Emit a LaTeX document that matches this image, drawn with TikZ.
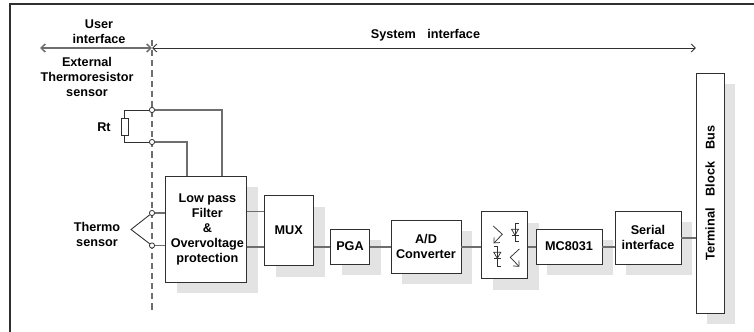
\documentclass[tikz,border=0pt]{standalone}
\usepackage{fontspec}
\setmainfont{Liberation Sans}
\usetikzlibrary{shadows,arrows.meta}
\definecolor{boxshade}{HTML}{E3E3E3}
\definecolor{linedark}{HTML}{303030}
\definecolor{linegray}{HTML}{6E6E6E}
\tikzset{
  >={Straight Barb[length=3.2pt,width=6pt]},
  label/.style={font=\bfseries\fontsize{9.5}{11.25}\selectfont, align=center, inner sep=0pt},
  block/.style={label, draw=linedark, line width=0.65pt, fill=white,
    drop shadow={shadow xshift=8.6pt, shadow yshift=-8.6pt, fill=boxshade, opacity=1}},
  wire/.style={linedark, line width=0.65pt},
  link/.style={linegray, line width=1pt},
  port/.style={circle, draw=linedark, fill=white, line width=0.6pt, inner sep=0pt, minimum size=3.9pt}
}

\begin{document}
\begin{tikzpicture}[x=0.75pt,y=-0.75pt]
\useasboundingbox (0,0) rectangle (754,332);
% frame, open on the right and at the bottom
\draw[linedark, line width=1.4pt] (754,4) -- (10,4) -- (10,332);

% interface boundary
\coordinate (bndtop) at (152,40);
\coordinate (bndbot) at (152,313);
\draw[linegray, line width=1.1pt, dash pattern=on 4.6pt off 3pt] (bndtop) -- (bndbot);

% interface arrows
\coordinate (userleft) at (40,48);
\coordinate (bndmid) at (152,48);
\coordinate (sysright) at (696,48);
\draw[<->, linegray, line width=1.1pt] (userleft) -- (bndmid);
\draw[<->, wire] (bndmid) -- (sysright);
\node[label] (userlab) at (99,31.5) {User\\interface};
\node[label] (syslab) at (425.5,35) {System\hspace{8.5pt}interface};
\node[label] (extlab) at (87,77) {External\\Thermoresistor\\sensor};

% blocks
\node[block, minimum width=60.5pt, minimum height=79.5pt] (lpf) at (205.8,229) {};
\node[label] (lpflab) at (207.4,229) {Low pass\\Filter\\\&\\Overvoltage\\protection};
\node[block, minimum width=37pt, minimum height=52.5pt] (mux) at (288.7,230.5) {MUX};
\node[block, minimum width=29.25pt, minimum height=26.25pt] (pga) at (350,246.5) {PGA};
\node[block, minimum width=52.5pt, minimum height=39.75pt] (adc) at (426,246.5) {A/D\\Converter};
\node[block, minimum width=34.5pt, minimum height=50.25pt] (opto) at (504.8,245) {};
\node[block, minimum width=49.5pt, minimum height=26.25pt] (mcu) at (569,246.5) {MC8031};
\node[block, minimum width=49.5pt, minimum height=39.75pt] (serial) at (648,237.5) {Serial\\interface};
\node[block, minimum width=21pt, minimum height=180pt] (bus) at (710,193) {};
\node[label, rotate=90] (buslab) at (bus.center) {Terminal\hspace{9pt}Block\hspace{9pt}Bus};

% thermoresistor input
\node[port] (rta) at (152,110) {};
\node[port] (rtb) at (152,142) {};
\node[draw=linedark, line width=0.6pt, inner sep=0pt, minimum width=5.25pt, minimum height=12.75pt] (rt) at (124.5,126.5) {};
\node[label] (rtlab) at (104,127) {Rt};
\coordinate (rtin) at (187,176);
\coordinate (rtout) at (222,176);
\draw[wire] (rta) -| (rt.north);
\draw[wire] (rtb) -| (rt.south);
\draw[link] (rta) -| (rtout);
\draw[link] (rtb) -| (rtin);

% thermocouple input
\node[port] (tca) at (152,213) {};
\node[port] (tcb) at (152,245.5) {};
\coordinate (tcjoin) at (131,229.5);
\node[label] (tclab) at (97,234) {Thermo\\sensor};
\draw[wire] (tca) -- (tcjoin) -- (tcb);
\draw[link] (tca) -- (tca -| lpf.west);
\draw[link] (tcb) -- (tcb -| lpf.west);

% signal chain
\coordinate (upper) at (0,211.7);
\coordinate (lower) at (0,247);
\coordinate (busin) at (0,238);
\draw[link] (lpf.east |- upper) -- (mux.west |- upper);
\draw[link] (lpf.east |- lower) -- (mux.west |- lower);
\draw[link] (mux.east |- lower) -- (pga.west |- lower);
\draw[link] (pga.east |- lower) -- (adc.west |- lower);
\draw[link] (adc.east |- lower) -- (opto.west |- lower);
\draw[link] (opto.east |- lower) -- (mcu.west |- lower);
\draw[link] (mcu.east |- lower) -- (serial.west |- lower);
\draw[link] (serial.east |- busin) -- (bus.west |- busin);

% optocoupler symbols
\draw[->, linedark, line width=0.55pt] (493.3,226) -- (502.3,234.3) -- (493.7,243.3);
\draw[->, linedark, line width=0.55pt] (519.3,249) -- (510.3,257.3) -- (519.3,266.7);
\draw[linedark, line width=0.55pt] (518.5,223.7) -- (515,223.7) -- (515,241.7) -- (518.5,241.7);
\draw[linedark, line width=0.55pt] (511.5,229.2) -- (518.5,229.2) -- (515,235.2) -- cycle;
\draw[linedark, line width=0.55pt] (511.5,235.2) -- (518.5,235.2);
\draw[linedark, line width=0.55pt] (493.8,246.7) -- (497.3,246.7) -- (497.3,266) -- (500.8,266);
\draw[linedark, line width=0.55pt] (493.8,252.3) -- (500.8,252.3) -- (497.3,258.3) -- cycle;
\draw[linedark, line width=0.55pt] (493.8,258.3) -- (500.8,258.3);
\end{tikzpicture}
\end{document}
